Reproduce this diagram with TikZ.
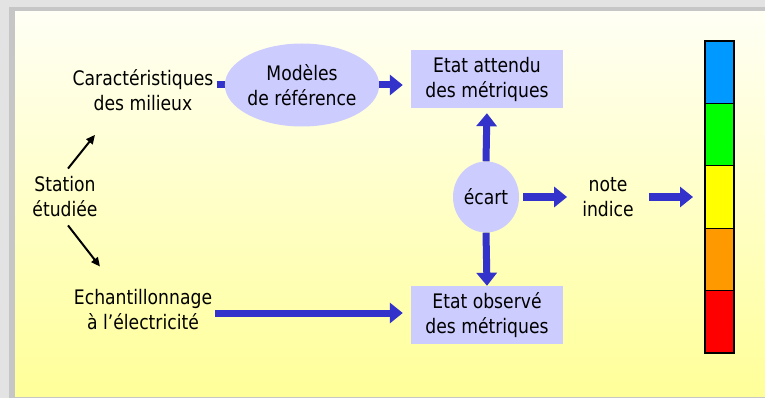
\documentclass[tikz,border=0pt]{standalone}
\usepackage{fontspec}
\setmainfont{DejaVu Sans}[FakeStretch=0.86]
\usetikzlibrary{shapes.geometric,arrows.meta,calc,backgrounds}
\definecolor{lav}{HTML}{CCCCFF}
\definecolor{arrblue}{HTML}{3333CC}
\definecolor{barblue}{HTML}{0099FF}
\definecolor{bargreen}{HTML}{00FF00}
\definecolor{baryellow}{HTML}{FFFF00}
\definecolor{barorange}{HTML}{FF9900}
\definecolor{barred}{HTML}{FF0000}
\tikzset{
  lbl/.style={align=center,font=\fontsize{20}{25}\selectfont,inner sep=3pt},
  lavbox/.style={lbl,rectangle,fill=lav,minimum width=152pt,minimum height=58pt},
  laveli/.style={lbl,ellipse,fill=lav,inner sep=0pt},
  barr/.style={arrblue,line width=7pt,-{Triangle[length=13pt,width=20pt]}},
  bline/.style={arrblue,line width=7pt},
  karr/.style={black,line width=2pt,-{Triangle[length=9pt,width=8pt]}},
  seg/.style={draw=black,line width=1.2pt,minimum width=29pt,minimum height=62.4pt,inner sep=0pt,outer sep=0pt}
}
\begin{document}
\begin{tikzpicture}[x=1pt,y=-1pt]
\useasboundingbox (0,0) rectangle (765,398);
% nodes
\node[lbl] (car) at (143,90) {Caractéristiques\\des milieux};
\node[laveli,minimum width=139pt,minimum height=83pt] (mod) at (302,85) {Modèles\\de référence};
\node[lavbox] (att) at (487,79) {Etat attendu\\des métriques};
\node[lavbox] (obs) at (487,315) {Etat observé\\des métriques};
\node[laveli,minimum width=66pt,minimum height=71pt] (ecart) at (486,197) {écart};
\node[lbl] (note) at (608,197) {note\\indice};
\node[lbl] (station) at (65,197) {Station\\étudiée};
\node[lbl] (ech) at (143,310) {Echantillonnage\\à l’électricité};
% colour bar
\node[seg,fill=barblue,anchor=north west] (b1) at (705,41) {};
\node[seg,fill=bargreen,anchor=north] (b2) at (b1.south) {};
\node[seg,fill=baryellow,anchor=north] (b3) at (b2.south) {};
\node[seg,fill=barorange,anchor=north] (b4) at (b3.south) {};
\node[seg,fill=barred,anchor=north] (b5) at (b4.south) {};
% frame / shadow and hidden stub
\begin{scope}[on background layer]
\fill[gray!22] (0,0) rectangle (765,398);
\fill[gray!45] (9,7) rectangle (765,398);
\shade[top color=yellow!4!white, bottom color={rgb,255:red,255;green,255;blue,153}] (15,12) rectangle (765,396);
\draw[bline] (car.east |- mod.center) -- (mod.center);
\end{scope}
% connectors
\draw[barr,shorten >=8pt] (mod.east) -- (att.west |- mod.east);
\draw[barr,shorten >=5pt] (ecart.north) -- (att.south);
\draw[barr] (ecart.south) -- (obs.north);
\draw[barr,shorten <=4pt,shorten >=12pt] (ecart.east) -- (note.west |- ecart.east);
\draw[barr,shorten <=12pt,shorten >=12pt] (note.east |- ecart.east) -- (b3.west |- ecart.east);
\draw[barr,shorten >=8pt] (ech.east |- 0,313) -- (obs.west |- 0,313);
\draw[karr] ($(station.north)+(3,-5)$) -- ($(car.south)+(-48,21)$);
\draw[karr] ($(station.south)+(3,5)$) -- ($(ech.north)+(-43,-20)$);
\end{tikzpicture}
\end{document}
